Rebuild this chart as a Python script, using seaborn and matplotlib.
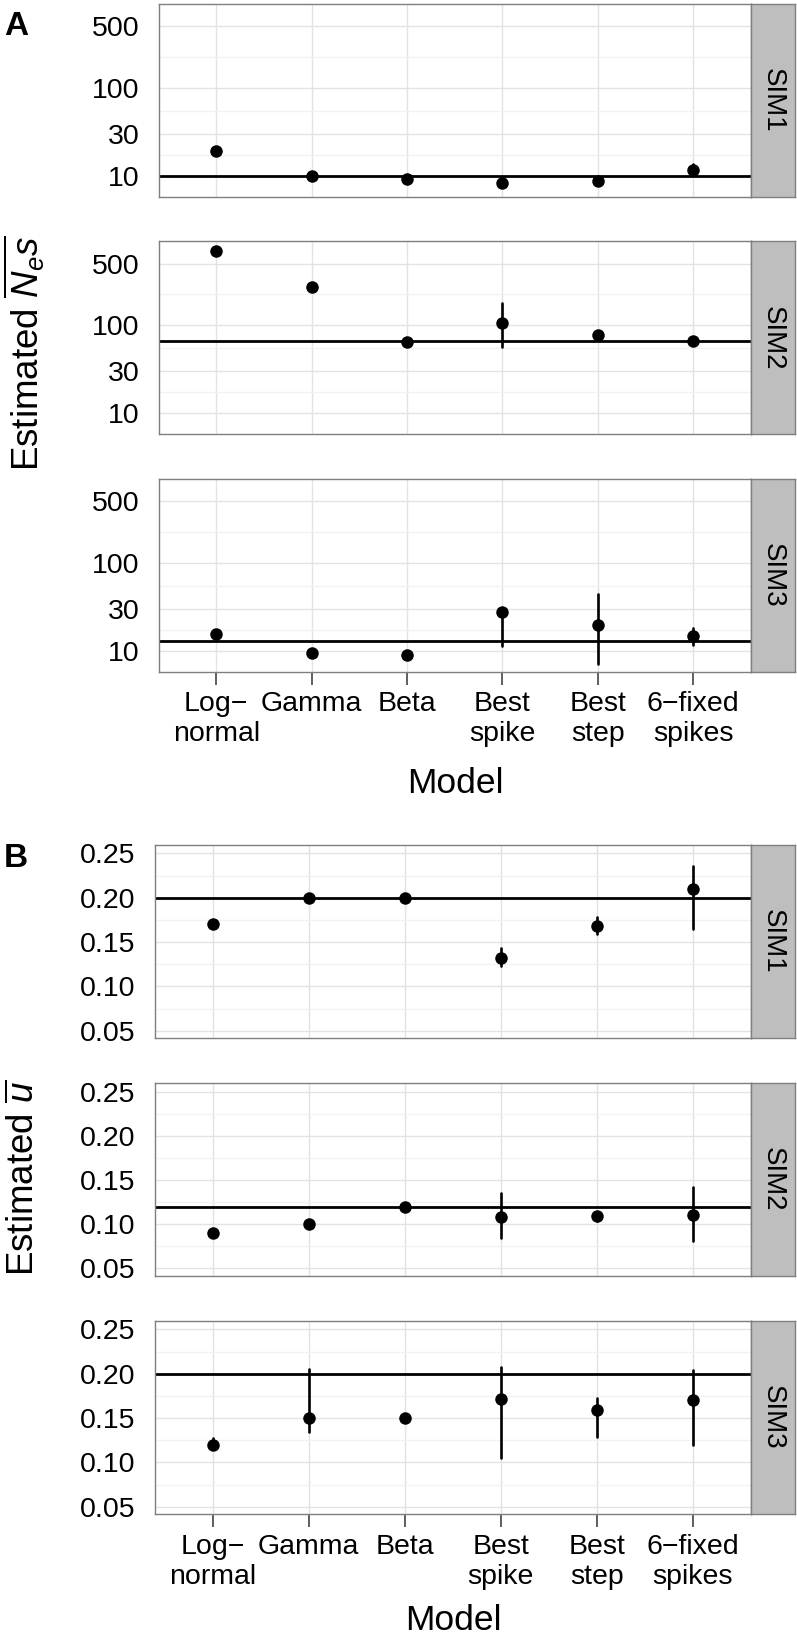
import numpy as np
import pandas as pd
import matplotlib
matplotlib.use("Agg")
import matplotlib.pyplot as plt
import seaborn as sns
from matplotlib.ticker import FixedLocator, FixedFormatter

# ---------------- data ----------------
models = ["Log\u2212\nnormal", "Gamma", "Beta", "Best\nspike", "Best\nstep", "6\u2212fixed\nspikes"]
sims = ["SIM1", "SIM2", "SIM3"]

# Panel A: estimated Ne*s (log scale)
nes_sim1_est = [19.5, 10.0, 9.4, 8.3, 8.8, 11.7]
nes_sim1_lo = [19.5, 10.0, 9.4, 8.3, 8.8, 10.3]
nes_sim1_hi = [19.5, 10.0, 9.4, 8.3, 8.8, 13.8]
nes_sim1_true = 10.0

nes_sim2_est = [690, 275, 64, 106, 78, 66]
nes_sim2_lo = [690, 275, 64, 57, 78, 66]
nes_sim2_hi = [690, 275, 64, 178, 78, 66]
nes_sim2_true = 66.0

nes_sim3_est = [15.6, 9.6, 9.1, 28.0, 19.8, 14.9]
nes_sim3_lo = [15.6, 9.6, 9.1, 11.5, 7.2, 11.7]
nes_sim3_hi = [15.6, 9.6, 9.1, 29.0, 44.7, 18.4]
nes_sim3_true = 13.0

nes_ticks = [10, 30, 100, 500]

# Panel B: estimated u
u_sim1_est = [0.170, 0.200, 0.200, 0.132, 0.168, 0.210]
u_sim1_lo = [0.170, 0.200, 0.200, 0.123, 0.159, 0.165]
u_sim1_hi = [0.170, 0.200, 0.200, 0.143, 0.178, 0.236]
u_sim1_true = 0.20

u_sim2_est = [0.090, 0.100, 0.120, 0.108, 0.109, 0.110]
u_sim2_lo = [0.090, 0.100, 0.120, 0.085, 0.104, 0.081]
u_sim2_hi = [0.090, 0.100, 0.120, 0.135, 0.114, 0.142]
u_sim2_true = 0.12

u_sim3_est = [0.120, 0.150, 0.150, 0.171, 0.159, 0.170]
u_sim3_lo = [0.117, 0.134, 0.150, 0.105, 0.129, 0.120]
u_sim3_hi = [0.128, 0.205, 0.150, 0.208, 0.173, 0.204]
u_sim3_true = 0.20

u_ticks = [0.05, 0.10, 0.15, 0.20, 0.25]

# ---------------- style ----------------
sns.set_style("white")
plt.rcParams["font.family"] = ["Liberation Sans", "DejaVu Sans"]
plt.rcParams["text.color"] = "black"
plt.rcParams["axes.labelcolor"] = "black"
plt.rcParams["xtick.color"] = "black"
plt.rcParams["ytick.color"] = "black"
plt.rcParams["mathtext.fontset"] = "custom"
plt.rcParams["mathtext.rm"] = "Liberation Sans"
plt.rcParams["mathtext.it"] = "Liberation Sans:italic"
plt.rcParams["mathtext.bf"] = "Liberation Sans:bold"

W, H = 797, 1638
fig = plt.figure(figsize=(W / 100, H / 100), dpi=100)

GRID_MAJ = "#E3E3E3"
GRID_MIN = "#F2F2F2"
FRAME = "#7F7F7F"
STRIP = "#BEBEBE"
TICK_FS = 20.5


def rect(left, top, right, bottom):
    return [left / W, 1 - bottom / H, (right - left) / W, (bottom - top) / H]


def facet(left, top, bottom, est, lo, hi, true, sim, log, ticks, ylim, bottom_axis):
    right = 750.5
    ax = fig.add_axes(rect(left, top, right, bottom))
    if log:
        ax.set_yscale("log")
    df = pd.DataFrame({"model": models * 3, "value": list(lo) + list(est) + list(hi)})
    sns.pointplot(data=df, x="model", y="value", order=models, estimator="median",
                  errorbar=("pi", 100), color="black", linestyle="none", marker="o",
                  markersize=9, markeredgewidth=0, capsize=0,
                  err_kws={"linewidth": 1.9}, ax=ax)
    ax.axhline(true, color="black", lw=2.0, zorder=1.8)
    ax.set_xlim(-0.6, len(models) - 0.4)
    ax.set_ylim(*ylim)
    ax.yaxis.set_major_locator(FixedLocator(ticks))
    ax.yaxis.set_major_formatter(FixedFormatter(
        [f"{t:g}" if log else f"{t:.2f}" for t in ticks]))
    if log:
        mids = [np.sqrt(a * b) for a, b in zip(ticks[:-1], ticks[1:])]
    else:
        mids = [(a + b) / 2 for a, b in zip(ticks[:-1], ticks[1:])]
    ax.yaxis.set_minor_locator(FixedLocator(mids))
    ax.yaxis.set_minor_formatter(FixedFormatter([""] * len(mids)))
    ax.grid(True, which="major", color=GRID_MAJ, lw=1.0)
    ax.grid(True, which="minor", axis="y", color=GRID_MIN, lw=1.0)
    ax.set_axisbelow(True)
    ax.tick_params(which="minor", length=0)
    ax.tick_params(axis="y", which="major", length=9, width=1.1, color="#333333",
                   pad=5, labelsize=TICK_FS, labelcolor="black")
    if bottom_axis:
        ax.tick_params(axis="x", which="major", length=9, width=1.1, color="#333333",
                       pad=5, labelsize=TICK_FS, labelcolor="black", bottom=True)
    else:
        ax.tick_params(axis="x", length=0, labelbottom=False)
    for s in ax.spines.values():
        s.set_color(FRAME)
        s.set_linewidth(1.0)
        s.set_visible(True)
    ax.set_xlabel("")
    ax.set_ylabel("")
    # strip
    sax = fig.add_axes(rect(right, top, 795, bottom))
    sax.set_facecolor(STRIP)
    sax.set_xticks([])
    sax.set_yticks([])
    for s in sax.spines.values():
        s.set_color(FRAME)
        s.set_linewidth(1.0)
    sax.text(0.5, 0.5, sim, rotation=-90, ha="center", va="center",
             fontsize=20, color="black", transform=sax.transAxes)
    return ax


nes_est = [nes_sim1_est, nes_sim2_est, nes_sim3_est]
nes_lo = [nes_sim1_lo, nes_sim2_lo, nes_sim3_lo]
nes_hi = [nes_sim1_hi, nes_sim2_hi, nes_sim3_hi]
nes_true = [nes_sim1_true, nes_sim2_true, nes_sim3_true]
u_est = [u_sim1_est, u_sim2_est, u_sim3_est]
u_lo = [u_sim1_lo, u_sim2_lo, u_sim3_lo]
u_hi = [u_sim1_hi, u_sim2_hi, u_sim3_hi]
u_true = [u_sim1_true, u_sim2_true, u_sim3_true]

a_rows = [(4, 197), (241.5, 434), (479, 672)]
b_rows = [(845, 1038.3), (1083.3, 1276), (1321, 1514.3)]

for i, (t, b) in enumerate(a_rows):
    facet(159, t, b, nes_est[i], nes_lo[i], nes_hi[i], nes_true[i], sims[i],
          True, nes_ticks, (5.8, 895), i == 2)
for i, (t, b) in enumerate(b_rows):
    facet(155, t, b, u_est[i], u_lo[i], u_hi[i], u_true[i], sims[i],
          False, u_ticks, (0.0415, 0.2595), i == 2)

# titles / labels
fig.text(4 / W, 1 - 35 / H, "A", fontsize=24, fontweight="bold", va="baseline", ha="left")
fig.text(4 / W, 1 - 867 / H, "B", fontsize=24, fontweight="bold", va="baseline", ha="left")
fig.text(24 / W, 1 - 353 / H, r"Estimated $\overline{N_e s}$", rotation=90,
         ha="center", va="center", fontsize=26.5)
fig.text(24 / W, 1 - 1178 / H, r"Estimated $\overline{u}$", rotation=90,
         ha="center", va="center", fontsize=26.5)
fig.text(455 / W, 1 - 793 / H, "Model", ha="center", va="baseline", fontsize=25.5)
fig.text(453 / W, 1 - 1630 / H, "Model", ha="center", va="baseline", fontsize=25.5)

fig.savefig("out.png", dpi=100)
